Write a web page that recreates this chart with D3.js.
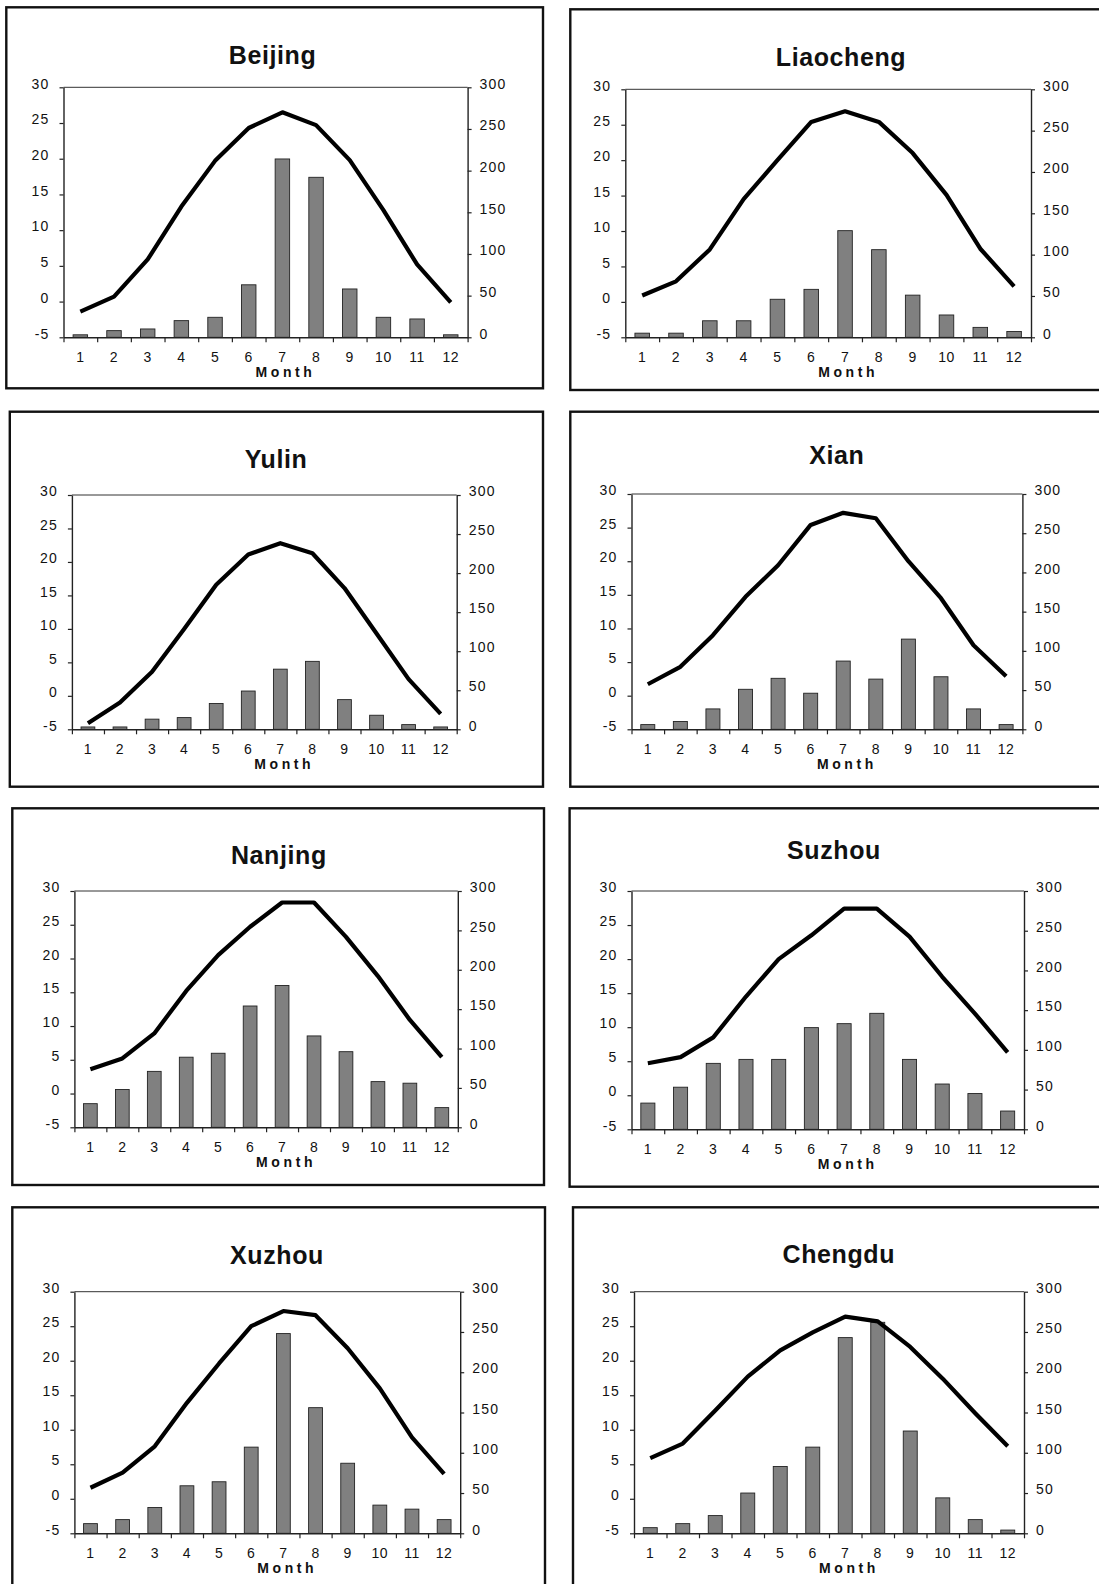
<!DOCTYPE html>
<html>
<head>
<meta charset="utf-8">
<script src="https://cdn.jsdelivr.net/npm/d3@7"></script>
<style>
  body { margin: 0; background: #fff; }
  svg { display: block; }
  text { font-family: "Liberation Sans", Arial, sans-serif; fill: #111; }
</style>
</head>
<body>
<div id="chart"></div>
<script>
//months and axis ticks
const months = [1, 2, 3, 4, 5, 6, 7, 8, 9, 10, 11, 12];
const tempTicks = [-5, 0, 5, 10, 15, 20, 25, 30];
const rainTicks = [0, 50, 100, 150, 200, 250, 300];

//monthly mean temperature (left axis) and precipitation (right axis)
const beijingTemp = [-1.4, 0.7, 5.9, 13.3, 19.7, 24.3, 26.5, 24.7, 19.8, 12.8, 5.2, -0.1];
const beijingRain = [3, 8, 10, 20, 24, 63, 214, 192, 58, 24, 22, 3];

const liaochengTemp = [0.9, 2.9, 7.4, 14.5, 20.0, 25.4, 26.9, 25.4, 21.0, 15.1, 7.5, 2.2];
const liaochengRain = [5, 5, 20, 20, 46, 58, 129, 106, 51, 27, 12, 7];

const yulinTemp = [-4.1, -1.0, 3.6, 10.0, 16.6, 21.1, 22.8, 21.3, 16.1, 9.3, 2.5, -2.7];
const yulinRain = [3, 3, 13, 15, 33, 49, 77, 87, 38, 18, 6, 3];

const xianTemp = [1.7, 4.3, 9.0, 14.7, 19.4, 25.4, 27.2, 26.4, 20.0, 14.5, 7.5, 2.9];
const xianRain = [6, 10, 26, 51, 65, 46, 87, 64, 115, 67, 26, 6];

const nanjingTemp = [3.6, 5.2, 8.9, 15.2, 20.5, 24.7, 28.3, 28.3, 23.2, 17.4, 10.9, 5.4];
const nanjingRain = [30, 48, 71, 89, 94, 154, 180, 116, 96, 58, 56, 25];

const suzhouTemp = [4.7, 5.6, 8.5, 14.5, 20.0, 23.5, 27.4, 27.4, 23.3, 17.4, 12.0, 6.3];
const suzhouRain = [33, 53, 83, 88, 88, 128, 133, 146, 88, 57, 45, 23];

const xuzhouTemp = [1.6, 3.8, 7.6, 13.9, 19.6, 25.0, 27.2, 26.6, 21.8, 16.0, 8.9, 3.6];
const xuzhouRain = [12, 17, 32, 59, 64, 107, 248, 156, 87, 35, 30, 17];

const chengduTemp = [5.9, 8.0, 12.8, 17.7, 21.5, 24.1, 26.4, 25.7, 22.0, 17.4, 12.4, 7.6];
const chengduRain = [7, 12, 22, 50, 83, 107, 243, 262, 127, 44, 17, 4];

//lookup city -> series
const cityData = new Map([
    ["Beijing", { temp: beijingTemp, rain: beijingRain }],
    ["Liaocheng", { temp: liaochengTemp, rain: liaochengRain }],
    ["Yulin", { temp: yulinTemp, rain: yulinRain }],
    ["Xian", { temp: xianTemp, rain: xianRain }],
    ["Nanjing", { temp: nanjingTemp, rain: nanjingRain }],
    ["Suzhou", { temp: suzhouTemp, rain: suzhouRain }],
    ["Xuzhou", { temp: xuzhouTemp, rain: xuzhouRain }],
    ["Chengdu", { temp: chengduTemp, rain: chengduRain }]
]);

//panel layout: frame [x0,y0,x1,y1], plot [left,right,top,bottom], title centre
const panels = [
    { city: "Beijing",   frame: [6.3, 7.3, 543, 388.3],      plot: [63.5, 467.6, 87.3, 337.3],   tx: 272.6, ty: 55.3 },
    { city: "Liaocheng", frame: [570.3, 9.3, 1106, 390],     plot: [625.3, 1031, 89.3, 337.3],   tx: 841,   ty: 57.5 },
    { city: "Yulin",     frame: [9.8, 411.7, 543, 786.7],    plot: [71.9, 456.7, 495, 729.3],    tx: 276,   ty: 458.8 },
    { city: "Xian",      frame: [570.3, 411.7, 1106, 786.7], plot: [631.5, 1022.4, 494, 729.3],  tx: 836.8, ty: 455.3 },
    { city: "Nanjing",   frame: [12.3, 808.3, 544, 1185],    plot: [74.4, 457.8, 891, 1127.3],   tx: 278.9, ty: 855.3 },
    { city: "Suzhou",    frame: [569.6, 808.3, 1106, 1186.7],plot: [631.5, 1024, 891, 1129.3],   tx: 834,   ty: 850 },
    { city: "Xuzhou",    frame: [12.3, 1207.3, 545, 1592],   plot: [74.4, 460.2, 1291.7, 1533.3],tx: 277,   ty: 1255.3 },
    { city: "Chengdu",   frame: [573, 1207.3, 1106, 1592],   plot: [634, 1024, 1291.7, 1533.3],  tx: 838.8, ty: 1253.8 }
];

const svg = d3.select("#chart").append("svg")
    .attr("width", 1099)
    .attr("height", 1584)
    .attr("viewBox", [0, 0, 1099, 1584]);

function styleAxis(g) {
    g.select(".domain").attr("stroke", "#222").attr("stroke-width", 1.4);
    g.selectAll(".tick line").attr("stroke", "#222").attr("stroke-width", 1.2);
    g.selectAll(".tick text")
        .attr("font-size", 14)
        .attr("letter-spacing", 1.2)
        .attr("fill", "#111");
}

//plain hyphen for negatives, like the original
const plain = v => String(v);

panels.forEach(p => {
    const d = cityData.get(p.city);
    const [l, r, t, b] = p.plot;
    const g = svg.append("g");

    //outer frame
    g.append("rect")
        .attr("x", p.frame[0])
        .attr("y", p.frame[1])
        .attr("width", p.frame[2] - p.frame[0])
        .attr("height", p.frame[3] - p.frame[1])
        .attr("fill", "#fff")
        .attr("stroke", "#111")
        .attr("stroke-width", 2.4);

    //scales
    const x = d3.scaleBand().domain(months).range([l, r]).paddingInner(0.57).paddingOuter(0.285);
    const xEdge = d3.scaleLinear().domain([0, 12]).range([l, r]);
    const yT = d3.scaleLinear().domain([-5, 30]).range([b, t]);
    const yR = d3.scaleLinear().domain([0, 300]).range([b, t]);
    const cx = m => x(m) + x.bandwidth() / 2;

    //title
    g.append("text")
        .attr("x", p.tx)
        .attr("y", p.ty + 8.8)
        .attr("text-anchor", "middle")
        .attr("font-size", 25)
        .attr("font-weight", "bold")
        .attr("letter-spacing", 0.6)
        .text(p.city);

    //plot area top border
    g.append("line")
        .attr("x1", l).attr("x2", r)
        .attr("y1", t).attr("y2", t)
        .attr("stroke", "#333")
        .attr("stroke-width", 1);

    //precipitation bars
    g.append("g")
        .selectAll("rect")
        .data(months)
        .join("rect")
        .attr("x", m => x(m))
        .attr("y", (m, i) => yR(d.rain[i]))
        .attr("width", x.bandwidth())
        .attr("height", (m, i) => b - yR(d.rain[i]))
        .attr("fill", "#808080")
        .attr("stroke", "#222")
        .attr("stroke-width", 0.9);

    //temperature line
    const line = d3.line()
        .x((v, i) => cx(months[i]))
        .y(v => yT(v));
    g.append("path")
        .datum(d.temp)
        .attr("fill", "none")
        .attr("stroke", "#000")
        .attr("stroke-width", 4.2)
        .attr("stroke-linejoin", "round")
        .attr("d", line);

    //left axis (temperature)
    g.append("g")
        .attr("transform", `translate(${l},0)`)
        .call(d3.axisLeft(yT).tickValues(tempTicks).tickFormat(plain).tickSize(4).tickSizeOuter(0).tickPadding(10))
        .call(styleAxis)
        .call(a => a.selectAll(".tick text").attr("dy", "0.05em"));

    //right axis (precipitation)
    g.append("g")
        .attr("transform", `translate(${r},0)`)
        .call(d3.axisRight(yR).tickValues(rainTicks).tickFormat(plain).tickSize(4).tickSizeOuter(0).tickPadding(8))
        .call(styleAxis)
        .call(a => a.selectAll(".tick text").attr("dy", "0.05em"));

    //bottom axis: ticks between months
    g.append("g")
        .attr("transform", `translate(0,${b})`)
        .call(d3.axisBottom(xEdge).tickValues(d3.range(13)).tickFormat("").tickSize(5).tickSizeOuter(0))
        .call(styleAxis);

    //month labels
    g.append("g")
        .selectAll("text")
        .data(months)
        .join("text")
        .attr("x", m => cx(m))
        .attr("y", b + 24.4)
        .attr("text-anchor", "middle")
        .attr("font-size", 14)
        .attr("letter-spacing", 0.5)
        .text(m => m);

    //axis title
    g.append("text")
        .attr("x", (l + r) / 2 + 20)
        .attr("y", b + 39.5)
        .attr("text-anchor", "middle")
        .attr("font-size", 14)
        .attr("font-weight", "bold")
        .attr("letter-spacing", 3.6)
        .text("Month");
});
</script>
</body>
</html>
